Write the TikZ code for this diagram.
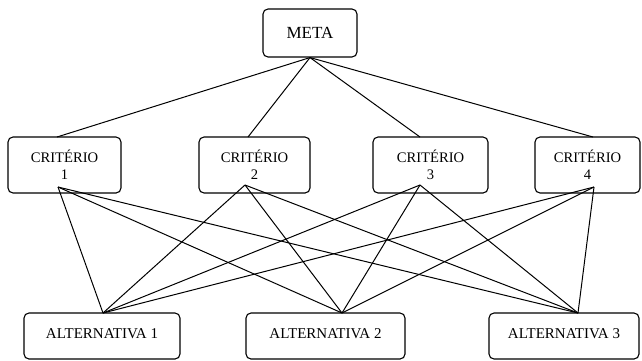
\documentclass[tikz,border=0pt]{standalone}
\usepackage{fontspec}
\setmainfont{Liberation Serif}
\begin{document}
\begin{tikzpicture}[x=1pt,y=-1pt,
  box/.style={draw=black, line width=1.1pt, rounded corners=5pt, inner sep=0pt, align=center},
  metabox/.style={box, minimum width=94pt, minimum height=48pt, font=\fontsize{17}{20}\selectfont},
  critbox/.style={box, minimum height=56pt, font=\fontsize{14.6}{17}\selectfont},
  altbox/.style={box, minimum height=46pt, font=\fontsize{15}{17}\selectfont},
  link/.style={draw=black, line width=1pt}]
\useasboundingbox (0,0) rectangle (642,360);
\node[metabox] (meta) at (310,33) {META};
\node[critbox, minimum width=113pt] (c1) at (64.5,165) {CRITÉRIO\\1};
\node[critbox, minimum width=111pt] (c2) at (254.5,165) {CRITÉRIO\\2};
\node[critbox, minimum width=115pt] (c3) at (430.5,165) {CRITÉRIO\\3};
\node[critbox, minimum width=105pt] (c4) at (587.5,165) {CRITÉRIO\\4};
\node[altbox, minimum width=156pt] (a1) at (102,336) {\raisebox{4pt}{ALTERNATIVA 1}};
\node[altbox, minimum width=159pt] (a2) at (325.5,336) {\raisebox{4pt}{ALTERNATIVA 2}};
\node[altbox, minimum width=150pt] (a3) at (564,336) {\raisebox{4pt}{ALTERNATIVA 3}};
% connection points
\coordinate (c1t) at (57,137);
\coordinate (c2t) at (248,137);
\coordinate (c3t) at (420,137);
\coordinate (c4t) at (593,137);
\coordinate (c1b) at (58,187);
\coordinate (c2b) at (245,185);
\coordinate (c3b) at (420,185);
\coordinate (c4b) at (594,187);
\coordinate (a1t) at (103,313);
\coordinate (a2t) at (342,313);
\coordinate (a3t) at (578,313);
\foreach \c in {c1t,c2t,c3t,c4t} \draw[link] (meta.south) -- (\c);
\foreach \c in {c1b,c2b,c3b,c4b}
  \foreach \a in {a1t,a2t,a3t}
    \draw[link] (\c) -- (\a);
\end{tikzpicture}
\end{document}
